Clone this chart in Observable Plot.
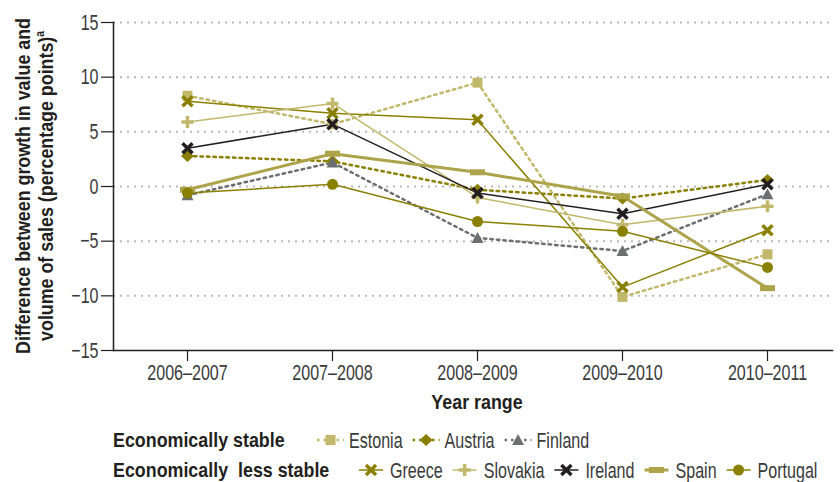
<!DOCTYPE html>
<html>
<head>
<meta charset="utf-8">
<script src="https://cdn.jsdelivr.net/npm/d3@7"></script>
<script src="https://cdn.jsdelivr.net/npm/@observablehq/plot@0.6"></script>
<style>
  body { margin: 0; background: #fff; font-family: "Liberation Sans", Arial, sans-serif; color: #231f20; }
  #chart { width: 840px; }
  svg { display: block; }
</style>
</head>
<body>
<div id="chart"></div>
<script>
// Year ranges on the x axis
const periods = ["2006–2007", "2007–2008", "2008–2009", "2009–2010", "2010–2011"];

// Difference between growth in value and volume of sales (percentage points)
const estonia  = [8.3, 5.7, 9.5, -10.1, -6.2];
const austria  = [2.8, 2.3, -0.3, -1.1, 0.6];
const finland  = [-0.8, 2.2, -4.7, -5.9, -0.7];
const greece   = [7.8, 6.7, 6.1, -9.2, -4.0];
const slovakia = [5.9, 7.6, -1.0, -3.5, -1.8];
const ireland  = [3.5, 5.7, -0.6, -2.5, 0.2];
const spain    = [-0.3, 3.0, 1.3, -0.9, -9.3];
const portugal = [-0.6, 0.2, -3.2, -4.1, -7.4];

const yTicks = [-15, -10, -5, 0, 5, 10, 15];

// Colours
const khakiLight = "#c2b86c";
const olive = "#8a8000";
const khaki = "#ada34a";
const grey = "#6d6e70";
const ink = "#231f20";
const label = "#3a3a3a";
const FONT = "'Liberation Sans', Arial, sans-serif";

// Horizontal squeeze applied to regular and bold type
const SQUEEZE = { regular: 0.73, bold: 0.85 };

// Custom marker shapes (drawn at fixed pixel size)
const shapes = {
  square: { draw(c) { c.rect(-5, -5, 10, 10); } },
  diamond: { draw(c) { c.moveTo(0, -6); c.lineTo(6.5, 0); c.lineTo(0, 6); c.lineTo(-6.5, 0); c.closePath(); } },
  triangle: { draw(c) { c.moveTo(0, -6); c.lineTo(6, 5); c.lineTo(-6, 5); c.closePath(); } },
  times: { draw(c) { c.moveTo(-5, -5); c.lineTo(5, 5); c.moveTo(5, -5); c.lineTo(-5, 5); } },
  plus: { draw(c) { c.moveTo(-6, 0); c.lineTo(6, 0); c.moveTo(0, -6); c.lineTo(0, 6); } },
  bar: { draw(c) { c.rect(-7.5, -3, 15, 6); } },
  circle: { draw(c) { c.moveTo(5.5, 0); c.arc(0, 0, 5.5, 0, 2 * Math.PI); } }
};

const series = [
  { name: "Estonia",  group: "stable", values: estonia,  color: khakiLight, dash: "2.5,4", width: 2.5, shape: "square",   filled: true },
  { name: "Austria",  group: "stable", values: austria,  color: olive,      dash: "2.5,4", width: 2.5, shape: "diamond",  filled: true },
  { name: "Finland",  group: "stable", values: finland,  color: grey,       dash: "2.5,4", width: 2.5, shape: "triangle", filled: true },
  { name: "Greece",   group: "less",   values: greece,   color: olive,      dash: null,    width: 1.5, shape: "times",    filled: false },
  { name: "Slovakia", group: "less",   values: slovakia, color: khakiLight, dash: null,    width: 1.5, shape: "plus",     filled: false },
  { name: "Ireland",  group: "less",   values: ireland,  color: ink,        dash: null,    width: 1.5, shape: "times",    filled: false },
  { name: "Spain",    group: "less",   values: spain,    color: khaki,      dash: null,    width: 3,   shape: "bar",      filled: true },
  { name: "Portugal", group: "less",   values: portugal, color: olive,      dash: null,    width: 1.5, shape: "circle",   filled: true }
];

const rows = series.flatMap(s => periods.map((p, i) => ({ country: s.name, period: p, value: s.values[i] })));

const lineMarks = series.map(s => Plot.line(rows.filter(d => d.country === s.name), {
  x: "period", y: "value", stroke: s.color, strokeWidth: s.width,
  strokeDasharray: s.dash || undefined, curve: "linear"
}));
const dotMarks = series.map(s => Plot.dot(rows.filter(d => d.country === s.name), {
  x: "period", y: "value", symbol: shapes[s.shape], r: 5,
  fill: s.filled ? s.color : "none",
  stroke: s.filled ? "none" : s.color,
  strokeWidth: s.filled ? 0 : 3.5
}));

const svg = Plot.plot({
  width: 840,
  height: 420,
  marginLeft: 113,
  marginRight: 8,
  marginTop: 22,
  marginBottom: 70,
  style: { fontFamily: FONT, fontSize: "22px", color: label, background: "#fff" },
  x: { type: "point", domain: periods, padding: 0, insetLeft: 74, insetRight: 65 },
  y: { domain: [-15, 15] },
  marks: [
    Plot.gridY(yTicks.filter(t => t > -15), { stroke: "#b9b9b9", strokeOpacity: 1, strokeWidth: 2, strokeDasharray: "2,5" }),
    Plot.frame({ anchor: "left", stroke: ink, strokeWidth: 1.5 }),
    Plot.frame({ anchor: "bottom", stroke: ink, strokeWidth: 1.5 }),
    Plot.axisY({ ticks: yTicks, tickSize: 12, tickPadding: 3, label: null, stroke: ink, strokeWidth: 1.2, tickFormat: d => d < 0 ? "−" + Math.abs(d) : String(d) }),
    Plot.axisX({ tickSize: 11, tickPadding: 3, label: null, stroke: ink, strokeWidth: 1.2 }),
    Plot.text(["Year range"], { frameAnchor: "bottom", dx: 4, dy: 58, fontWeight: "bold", fill: ink, fontSize: 21 }),
    ...lineMarks,
    ...dotMarks
  ]
});

// Narrow a text element so it sets like a condensed face; returns its new width
function squeeze(node) {
  const bold = +getComputedStyle(node).fontWeight >= 600;
  const len = node.getComputedTextLength() * (bold ? SQUEEZE.bold : SQUEEZE.regular);
  node.setAttribute("textLength", len);
  node.setAttribute("lengthAdjust", "spacingAndGlyphs");
  return len;
}

document.getElementById("chart").appendChild(svg);
d3.select(svg).selectAll("text").each(function () { squeeze(this); });

// Rotated two-line y axis title with a superscript note marker,
// narrowed along its reading direction by a scale transform
const title = d3.select(svg).append("g")
  .attr("transform", `translate(0,186) rotate(-90) scale(${SQUEEZE.bold},1)`)
  .attr("font-weight", "bold")
  .attr("font-size", 21)
  .attr("fill", ink)
  .attr("text-anchor", "middle");
title.append("text").attr("x", 0).attr("y", 30).text("Difference between growth in value and");
const t2 = title.append("text").attr("x", 0).attr("y", 53);
t2.append("tspan").text("volume of sales (percentage points)");
t2.append("tspan").attr("font-size", 12).attr("dy", -9).text("a");

// Legend in two groups
const legend = d3.select("body").append("svg")
  .attr("width", 840).attr("height", 62)
  .attr("font-family", FONT);
const groups = [
  { key: "stable", label: "Economically stable", y: 20, start: 317, swatch: 27, gapText: 5 },
  { key: "less", label: "Economically  less stable", y: 50, start: 359, swatch: 24, gapText: 7 }
];
groups.forEach(g => {
  const head = legend.append("text").attr("x", 113).attr("y", g.y).attr("dy", "0.35em")
    .attr("font-weight", "bold").attr("font-size", 21).attr("fill", ink)
    .style("white-space", "pre").text(g.label);
  squeeze(head.node());
  let x = g.start;
  series.filter(s => s.group === g.key).forEach(s => {
    const w = g.swatch;
    const sw = legend.append("g").attr("transform", `translate(${x},${g.y})`);
    sw.append("line").attr("x1", 0).attr("x2", w).attr("y1", 0).attr("y2", 0)
      .attr("stroke", s.color).attr("stroke-width", s.width)
      .attr("stroke-dasharray", s.dash);
    const p = d3.path();
    shapes[s.shape].draw(p);
    sw.append("path").attr("d", p.toString()).attr("transform", `translate(${w / 2},0)`)
      .attr("fill", s.filled ? s.color : "none")
      .attr("stroke", s.filled ? "none" : s.color)
      .attr("stroke-width", s.filled ? 0 : 3.5);
    const t = legend.append("text").attr("x", x + w + g.gapText).attr("y", g.y).attr("dy", "0.35em")
      .attr("font-size", 22).attr("fill", label).text(s.name);
    const len = squeeze(t.node());
    x += w + g.gapText + len + 10;
  });
});
</script>
</body>
</html>
